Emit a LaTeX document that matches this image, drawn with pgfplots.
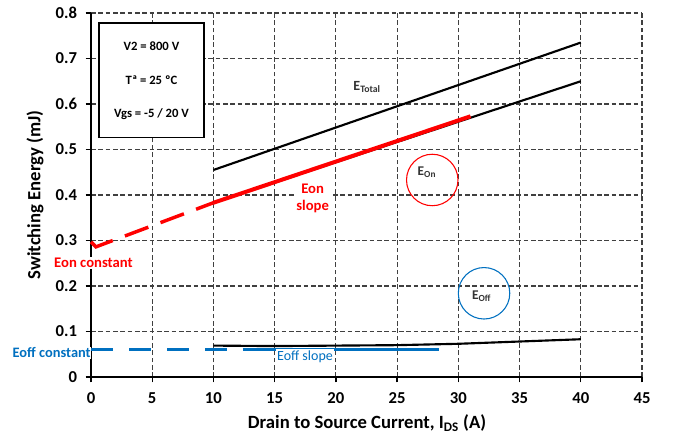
\documentclass[border=0pt]{standalone}
\usepackage{fontspec}
\setmainfont{Carlito}
\usepackage{pgfplots}
\pgfplotsset{compat=1.18}
\usetikzlibrary{calc}
\definecolor{offblue}{HTML}{0070C0}
\definecolor{onred}{HTML}{FF0000}
\begin{document}
\begin{tikzpicture}
\begin{axis}[
  scale only axis, width=413.25pt, height=273pt,
  xmin=0, xmax=45, ymin=0, ymax=0.8,
  xtick={0,5,10,15,20,25,30,35,40,45},
  ytick={0,0.1,0.2,0.3,0.4,0.5,0.6,0.7,0.8},
  yticklabels={0,0.1,0.2,0.3,0.4,0.5,0.6,0.7,0.8},
  axis lines=left, axis line style={-, line width=2pt},
  grid=major, grid style={black!75, line width=0.9pt, dash pattern=on 3.5pt off 2pt},
  tick align=outside, major tick length=4pt, tick style={black, line width=1pt},
  ticklabel style={font=\fontsize{12.5}{14}\selectfont\bfseries},
  yticklabel style={xshift=-3pt},
  xticklabel style={yshift=-4pt},
  /pgf/number format/assume math mode=true,
  xlabel={Drain to Source Current, I\textsubscript{DS} (A)},
  ylabel={Switching Energy (mJ)},
  label style={font=\fontsize{14}{16}\selectfont\bfseries},
  xlabel style={at={(axis description cs:0.501,-0.126)}, anchor=center},
  ylabel style={at={(axis description cs:-0.1016,0.5)}, anchor=center},
  clip=false,
]
% E_Total
\addplot[black, line width=1.6pt] coordinates {(10,0.455) (40,0.735)};
% E_On
\addplot[black, line width=1.6pt] coordinates {(10,0.383) (40,0.650)};
% E_Off
\addplot[black, line width=1.6pt] coordinates {(10,0.069) (15,0.068) (20,0.069) (25,0.070) (30,0.073) (35,0.078) (40,0.083)};
% Eon slope (red solid)
\addplot[onred, line width=3pt] coordinates {(10,0.383) (31,0.573)};
% Eon constant (red dashed)
\addplot[onred, line width=2.6pt, dash pattern=on 18.75pt off 9.75pt] coordinates {(0,0.297) (0.4,0.286) (10,0.383)};
% Eoff constant (blue dashed)
\addplot[offblue, line width=2.6pt, dash pattern=on 16.5pt off 12pt] coordinates {(0,0.061) (12.4,0.061)};
% Eoff slope (blue solid)
\addplot[offblue, line width=2.6pt] coordinates {(12.4,0.061) (28.4,0.061)};

% info box
\draw[fill=white, line width=0.9pt] (axis cs:0.65,0.527) rectangle (axis cs:9.23,0.778);
\node[font=\fontsize{9.5}{11}\selectfont\bfseries] at (axis cs:4.94,0.727) {V2 = 800 V};
\node[font=\fontsize{9.5}{11}\selectfont\bfseries] at (axis cs:4.94,0.653) {Tª = 25 ºC};
\node[font=\fontsize{9.5}{11}\selectfont\bfseries] at (axis cs:4.94,0.578) {Vgs = -5 / 20 V};

% curve labels
\node[font=\fontsize{10.5}{12}\selectfont\bfseries, text=black!80] at (axis cs:22.55,0.637) {E\textsubscript{Total}};
\draw[onred, line width=0.8pt] (axis cs:27.87,0.433) circle[radius=19.3pt];
\node[font=\fontsize{10}{12}\selectfont\bfseries, text=black!80] at (axis cs:27.44,0.449) {E\textsubscript{On}};
\draw[offblue, line width=0.8pt] (axis cs:32.1,0.184) circle[radius=19.3pt];
\node[font=\fontsize{10}{12}\selectfont\bfseries, text=black!80] at (axis cs:31.9,0.178) {E\textsubscript{Off}};

% annotations
\node[font=\fontsize{11}{13}\selectfont\bfseries, text=onred, fill=white, align=center, inner sep=1pt] at (axis cs:18.1,0.392) {Eon\\slope};
\node[font=\fontsize{11}{13}\selectfont\bfseries, text=onred, fill=white, inner sep=1pt] at (axis cs:0.2,0.25) {Eon constant};
\node[font=\fontsize{10.8}{13}\selectfont\bfseries, text=offblue, fill=white, inner sep=0.5pt, anchor=east] at (axis cs:0.05,0.053) {Eoff constant};
\node[font=\fontsize{10.5}{12}\selectfont, text=offblue, fill=white, inner sep=1pt] at (axis cs:17.48,0.045) {Eoff slope};
\end{axis}
\pgfresetboundingbox
\path ($(current axis.south west)+(-68.25pt,-44.25pt)$) rectangle ($(current axis.north east)+(25.5pt,9.75pt)$);
\end{tikzpicture}
\end{document}
